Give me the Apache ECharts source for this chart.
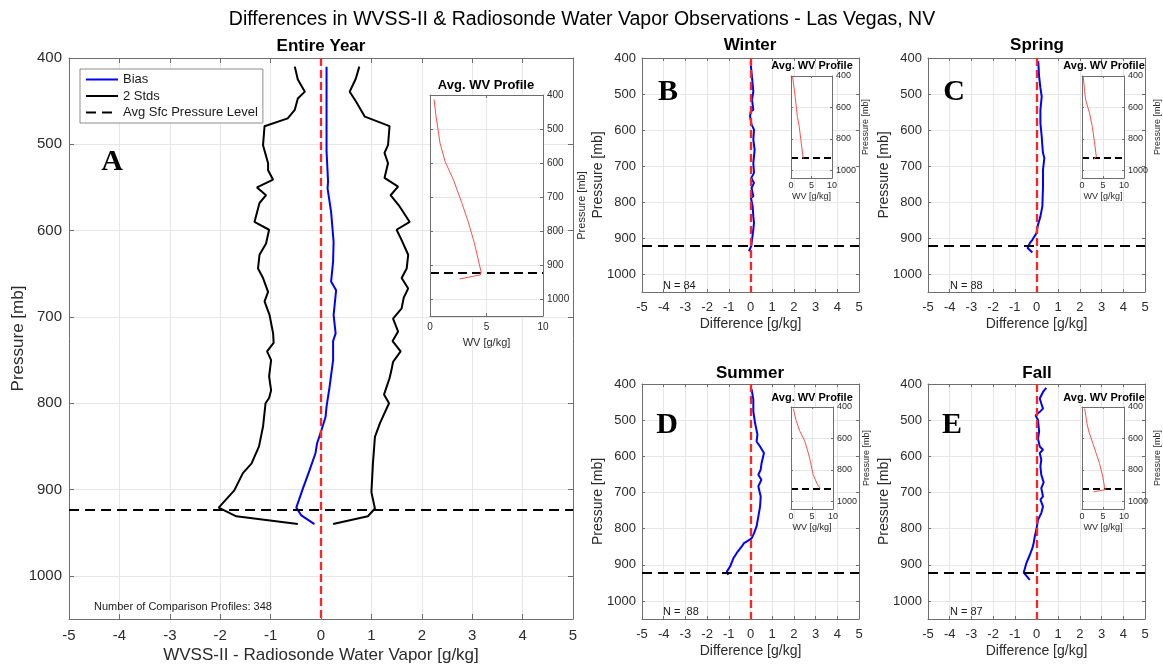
<!DOCTYPE html>
<html><head><meta charset="utf-8">
<script src="https://cdn.jsdelivr.net/npm/echarts@6/dist/echarts.min.js"></script>
<style>html,body{margin:0;padding:0;background:#fff}#chart{width:1163px;height:665px}</style>
</head><body><div id="chart"></div>
<script>
// ---------------- DATA ----------------
const mainTitle = 'Differences in WVSS-II & Radiosonde Water Vapor Observations - Las Vegas, NV';
const panelNames = ['Entire Year', 'Winter', 'Spring', 'Summer', 'Fall'];
const panelLetters = ['A', 'B', 'C', 'D', 'E'];
const sampleCounts = [348, 84, 88, 88, 87];
const sfcPressure = [923, 921, 922, 923, 922];

// Entire year: bias and +/- 2 std envelopes (pressure [mb], difference [g/kg])
const yearBiasP = [410,508,543,551,578,613,636,659,669,698,719,728,750,781,804,816,831,847,858,878,899,921,930,940];
const yearBiasX = [0.11,0.11,0.14,0.13,0.20,0.25,0.24,0.20,0.30,0.25,0.29,0.24,0.24,0.17,0.11,0.09,0.01,-0.08,-0.11,-0.23,-0.36,-0.49,-0.39,-0.13];
const yearStdLoP = [410,425,439,447,460,470,479,501,522,530,541,550,559,568,590,599,615,628,644,655,671,682,698,719,730,740,750,769,785,794,800,827,850,870,881,901,921,931,940];
const yearStdLoX = [-0.52,-0.46,-0.32,-0.46,-0.52,-0.66,-1.12,-1.15,-1.05,-1.05,-0.95,-1.27,-1.09,-1.22,-1.32,-1.03,-1.09,-1.22,-1.25,-1.15,-1.05,-1.12,-1.02,-0.95,-0.94,-1.07,-0.99,-1.03,-0.99,-1.03,-1.10,-1.15,-1.23,-1.38,-1.55,-1.72,-2.03,-1.68,-0.46];
const yearStdHiP = [410,424,439,451,468,479,501,510,522,539,549,559,572,590,599,611,628,644,655,667,678,690,702,717,728,740,752,761,771,790,800,823,839,870,903,922,931,940];
const yearStdHiX = [0.76,0.69,0.57,0.70,0.87,1.36,1.33,1.26,1.33,1.26,1.53,1.38,1.56,1.76,1.50,1.60,1.73,1.70,1.60,1.73,1.64,1.60,1.43,1.53,1.42,1.58,1.43,1.40,1.36,1.25,1.35,1.17,1.07,1.03,1.00,1.07,0.93,0.24];
const yearWvP = [413,464,542,596,650,719,777,836,920,929,941];
const yearWvX = [0.36,0.54,0.89,1.34,2.08,2.83,3.42,3.93,4.52,4.46,2.62];

// Winter
const winterBiasP = [410,423,460,493,516,544,548,562,585,599,627,655,692,719,733,747,761,784,789,812,840,858,877,914,921,937];
const winterBiasX = [0.01,0.02,0.08,0.13,0.07,0.13,0.01,-0.02,0.05,0.16,0.13,0.19,0.13,0.16,0.04,0.16,0.05,0.13,0.02,0.10,0.13,0.16,0.13,0.05,0.04,-0.07];
const winterWvP = [404,531,658,721,806,901,926];
const winterWvX = [0.4,1.0,1.55,2.0,2.4,2.85,3.0];

// Spring
const springBiasP = [409,451,483,507,544,581,618,645,664,678,710,757,812,840,863,886,905,914,928,940];
const springBiasX = [0.08,0.12,0.18,0.24,0.18,0.18,0.24,0.27,0.30,0.36,0.30,0.30,0.27,0.18,0.07,0.00,-0.19,-0.31,-0.41,-0.19];
const springWvP = [404,499,552,637,721,827,912,922,933];
const springWvX = [0.3,0.63,0.87,1.8,2.44,3.0,3.4,3.6,2.75];

// Summer
const summerBiasP = [414,443,476,508,540,559,573,591,619,637,651,665,683,711,739,767,794,813,827,836,840,850,868,882,905,919,928];
const summerBiasX = [0.05,0.13,0.13,0.21,0.32,0.28,0.44,0.62,0.51,0.47,0.36,0.50,0.36,0.47,0.44,0.36,0.28,0.16,0.05,-0.18,-0.30,-0.41,-0.64,-0.79,-0.94,-1.09,-1.03];
const summerWvP = [410,485,548,612,675,739,824,887,919];
const summerWvX = [0.56,1.2,2.0,3.2,3.92,4.56,5.2,6.16,6.96];

// Fall
const fallBiasP = [411,422,440,454,468,477,487,500,531,552,573,582,591,609,628,651,672,688,711,720,739,757,776,804,822,840,854,873,896,922,942];
const fallBiasX = [0.45,0.30,0.15,0.22,0.30,0.15,-0.04,0.07,0.12,0.07,0.15,0.30,0.15,0.22,0.18,0.22,0.33,0.22,0.30,0.18,0.30,0.22,0.07,-0.01,-0.08,-0.13,-0.19,-0.31,-0.47,-0.59,-0.31];
const fallWvP = [410,505,559,633,697,760,845,909,926,941];
const fallWvX = [0.63,1.18,1.65,2.6,3.4,4.17,4.96,5.35,5.6,2.75];

// ---------------- CHART ----------------
const FONT = "'Liberation Sans', Arial, Helvetica, sans-serif";
const AXC = '#6e6e6e', GRIDC = '#e6e6e6', TXT = '#2b2b2b';
const zip = (p, x) => x.map((v, i) => [v, p[i]]);

const grids = [
  {left: 69, top: 58, width: 504, height: 561},
  {left: 430, top: 95, width: 113, height: 221},
  {left: 642, top: 58, width: 217, height: 234},
  {left: 791, top: 76, width: 41, height: 102},
  {left: 928, top: 58, width: 217, height: 234},
  {left: 1082, top: 76, width: 42, height: 102},
  {left: 642, top: 384, width: 217, height: 235},
  {left: 791, top: 407, width: 42, height: 102},
  {left: 928, top: 384, width: 217, height: 235},
  {left: 1082, top: 407, width: 42, height: 102}
];
const gridOpts = grids.map((g, i) => Object.assign({containLabel: false, outerBoundsMode: 'none'}, g,
  i % 2 === 1 ? {show: true, backgroundColor: '#fff', borderWidth: 0, z: 5} : {show: false}));

const xAxes = [], yAxes = [];
function addAxes(gi, c) {
  const xi = xAxes.length, yi = yAxes.length;
  const line = {show: true, onZero: false, lineStyle: {color: AXC, width: 1}};
  const tick = {show: true, inside: true, length: c.tick, lineStyle: {color: AXC, width: 1}};
  const nameStyle = {fontSize: c.nameSize, color: TXT, fontFamily: FONT};
  const labStyle = {fontSize: c.lab, color: TXT, fontFamily: FONT};
  xAxes.push({gridIndex: gi, type: 'value', position: 'bottom', min: c.xMin, max: c.xMax, interval: c.xInt, z: c.z,
    axisLine: line, axisTick: tick, splitLine: {show: true, lineStyle: {color: GRIDC, width: 1}},
    axisLabel: Object.assign({show: true, margin: c.xm}, labStyle),
    name: c.xName, nameLocation: 'middle', nameGap: c.xng, nameMoveOverlap: false, nameTextStyle: nameStyle});
  xAxes.push({gridIndex: gi, type: 'value', position: 'top', min: c.xMin, max: c.xMax, interval: c.xInt, z: c.z,
    axisLine: line, axisTick: tick, splitLine: {show: false}, axisLabel: {show: false}});
  yAxes.push({gridIndex: gi, type: 'value', position: c.yPos, inverse: true, min: 400, max: 1050, interval: c.yInt, z: c.z,
    axisLine: line, axisTick: tick, splitLine: {show: true, lineStyle: {color: GRIDC, width: 1}},
    axisLabel: Object.assign({show: true, margin: c.ym, formatter: v => (v % c.yInt === 0 && v <= 1000) ? String(v) : ''}, labStyle),
    name: 'Pressure [mb]', nameLocation: 'middle', nameGap: c.yng, nameMoveOverlap: false, nameTextStyle: nameStyle});
  yAxes.push({gridIndex: gi, type: 'value', position: c.yPos === 'left' ? 'right' : 'left', inverse: true, min: 400, max: 1050, interval: c.yInt, z: c.z,
    axisLine: line, axisTick: tick, splitLine: {show: false}, axisLabel: {show: false}});
  return [xi, yi];
}

const cfgMain = {xMin: -5, xMax: 5, xInt: 1, tick: 5, lab: 15, xm: 9, ym: 7, nameSize: 17, xName: 'WVSS-II - Radiosonde Water Vapor [g/kg]', xng: 28, yng: 42, yPos: 'left', yInt: 100, z: 0};
const cfgSmall = {xMin: -5, xMax: 5, xInt: 1, tick: 3, lab: 13, xm: 9, ym: 6, nameSize: 14, xName: 'Difference [g/kg]', xng: 25, yng: 37, yPos: 'left', yInt: 100, z: 0};
const cfgInset = {xMin: 0, xMax: 10, xInt: 5, tick: 3, lab: 10, xm: 6, ym: 4, nameSize: 11, xName: 'WV [g/kg]', xng: 21, yng: 33, yPos: 'right', yInt: 100, z: 6};
const cfgInsetSmall = {xMin: 0, xMax: 10, xInt: 5, tick: 2, lab: 9, xm: 3, ym: 4, nameSize: 9, xName: 'WV [g/kg]', xng: 14, yng: 29, yPos: 'right', yInt: 200, z: 6};

const panels = [
  {bias: zip(yearBiasP, yearBiasX), wv: zip(yearWvP, yearWvX), lo: zip(yearStdLoP, yearStdLoX), hi: zip(yearStdHiP, yearStdHiX)},
  {bias: zip(winterBiasP, winterBiasX), wv: zip(winterWvP, winterWvX)},
  {bias: zip(springBiasP, springBiasX), wv: zip(springWvP, springWvX)},
  {bias: zip(summerBiasP, summerBiasX), wv: zip(summerWvP, summerWvX)},
  {bias: zip(fallBiasP, fallBiasX), wv: zip(fallWvP, fallWvX)}
];

const series = [];
const sfcStyle = {color: '#000', type: [10, 6], width: 2};
const zeroStyle = {color: '#ff2424', type: [8, 4], width: 2.3};
const mlBase = {symbol: ['none', 'none'], silent: true, label: {show: false}, emphasis: {disabled: true}, animation: false};

panels.forEach((pan, k) => {
  const [xi, yi] = addAxes(2 * k, k === 0 ? cfgMain : cfgSmall);
  const [ixi, iyi] = addAxes(2 * k + 1, k === 0 ? cfgInset : cfgInsetSmall);
  const ax = {xAxisIndex: xi, yAxisIndex: yi, type: 'line', symbol: 'none', silent: true, animation: false};
  if (pan.lo) {
    series.push(Object.assign({}, ax, {name: '2 Stds', data: pan.lo, lineStyle: {color: '#000', width: 2}, itemStyle: {color: '#000'}, z: 3}));
    series.push(Object.assign({}, ax, {name: '2 Stds', data: pan.hi, lineStyle: {color: '#000', width: 2}, itemStyle: {color: '#000'}, z: 3}));
  }
  series.push(Object.assign({}, ax, {name: 'Avg Sfc Pressure Level', data: [], lineStyle: sfcStyle, itemStyle: {color: '#000'}, z: 2,
    markLine: Object.assign({}, mlBase, {lineStyle: sfcStyle, data: [{yAxis: sfcPressure[k]}]})}));
  series.push(Object.assign({}, ax, {name: 'Bias', data: pan.bias, lineStyle: {color: '#0000ff', width: 2}, itemStyle: {color: '#0000ff'}, z: 4,
    markLine: Object.assign({}, mlBase, {lineStyle: zeroStyle, data: [{xAxis: 0}]})}));
  // inset: average WV profile
  series.push({name: 'Avg. WV Profile ' + panelNames[k], type: 'line', xAxisIndex: ixi, yAxisIndex: iyi, symbol: 'none', silent: true, animation: false,
    data: pan.wv, lineStyle: {color: '#ff4d4d', width: 1}, itemStyle: {color: '#ff4d4d'}, z: 8,
    markLine: Object.assign({}, mlBase, {lineStyle: {color: '#000', type: k === 0 ? [9, 5] : [7, 4], width: 1.8}, data: [{yAxis: sfcPressure[k]}]})});
});

const titleCenters = [[321, 38], [750, 37], [1037, 37], [750, 365], [1037, 365]];
const insetTitleCenters = [[486, 79], [812, 60], [1104, 60], [812, 392], [1104, 392]];
const titles = [{text: mainTitle, left: 582, top: 10, textAlign: 'center', textVerticalAlign: 'top', padding: 0,
  textStyle: {fontSize: 19.5, fontWeight: 'normal', color: '#000', fontFamily: FONT}}];
panelNames.forEach((n, k) => {
  titles.push({text: n, left: titleCenters[k][0], top: titleCenters[k][1], textAlign: 'center', textVerticalAlign: 'top', padding: 0,
    textStyle: {fontSize: 17, fontWeight: 'bold', color: '#000', fontFamily: FONT}});
  titles.push({text: 'Avg. WV Profile', left: insetTitleCenters[k][0], top: insetTitleCenters[k][1], textAlign: 'center', textVerticalAlign: 'top', padding: 0,
    textStyle: {fontSize: k === 0 ? 13 : 11, fontWeight: 'bold', color: '#000', fontFamily: FONT}});
});

const letterPos = [[112, 162], [668, 92], [954, 92], [667, 425], [952, 425]];
const notePos = [[94, 607], [663, 286], [950, 286], [663, 612], [950, 612]];
const noteText = ['Number of Comparison Profiles: ' + sampleCounts[0], 'N = ' + sampleCounts[1], 'N = ' + sampleCounts[2], 'N =  ' + sampleCounts[3], 'N = ' + sampleCounts[4]];
const graphics = [];
panelLetters.forEach((L, k) => {
  graphics.push({type: 'text', x: letterPos[k][0], y: letterPos[k][1], silent: true, z: 10,
    style: {text: L, font: "bold 30px 'Liberation Serif', 'Times New Roman', serif", fill: '#000', textAlign: 'center', textVerticalAlign: 'middle', align: 'center', verticalAlign: 'middle'}});
  graphics.push({type: 'text', x: notePos[k][0], y: notePos[k][1], silent: true, z: 10,
    style: {text: noteText[k], font: "11px " + FONT, fill: '#1a1a1a', textAlign: 'left', textVerticalAlign: 'middle', align: 'left', verticalAlign: 'middle'}});
});

const chart = echarts.init(document.getElementById('chart'), null, {renderer: 'canvas'});
chart.setOption({
  animation: false,
  backgroundColor: '#fff',
  textStyle: {fontFamily: FONT},
  title: titles,
  legend: {data: ['Bias', '2 Stds', 'Avg Sfc Pressure Level'], orient: 'vertical', left: 80, top: 69,
    itemWidth: 32, itemHeight: 12, itemGap: 3.5, padding: [4, 5, 4, 5], selectedMode: false,
    backgroundColor: '#fff', borderColor: '#8c8c8c', borderWidth: 1, borderRadius: 0,
    itemStyle: {opacity: 0}, textStyle: {fontSize: 13, color: '#1a1a1a', fontFamily: FONT}, z: 6},
  grid: gridOpts,
  xAxis: xAxes,
  yAxis: yAxes,
  series: series,
  graphic: graphics
});
</script></body></html>
